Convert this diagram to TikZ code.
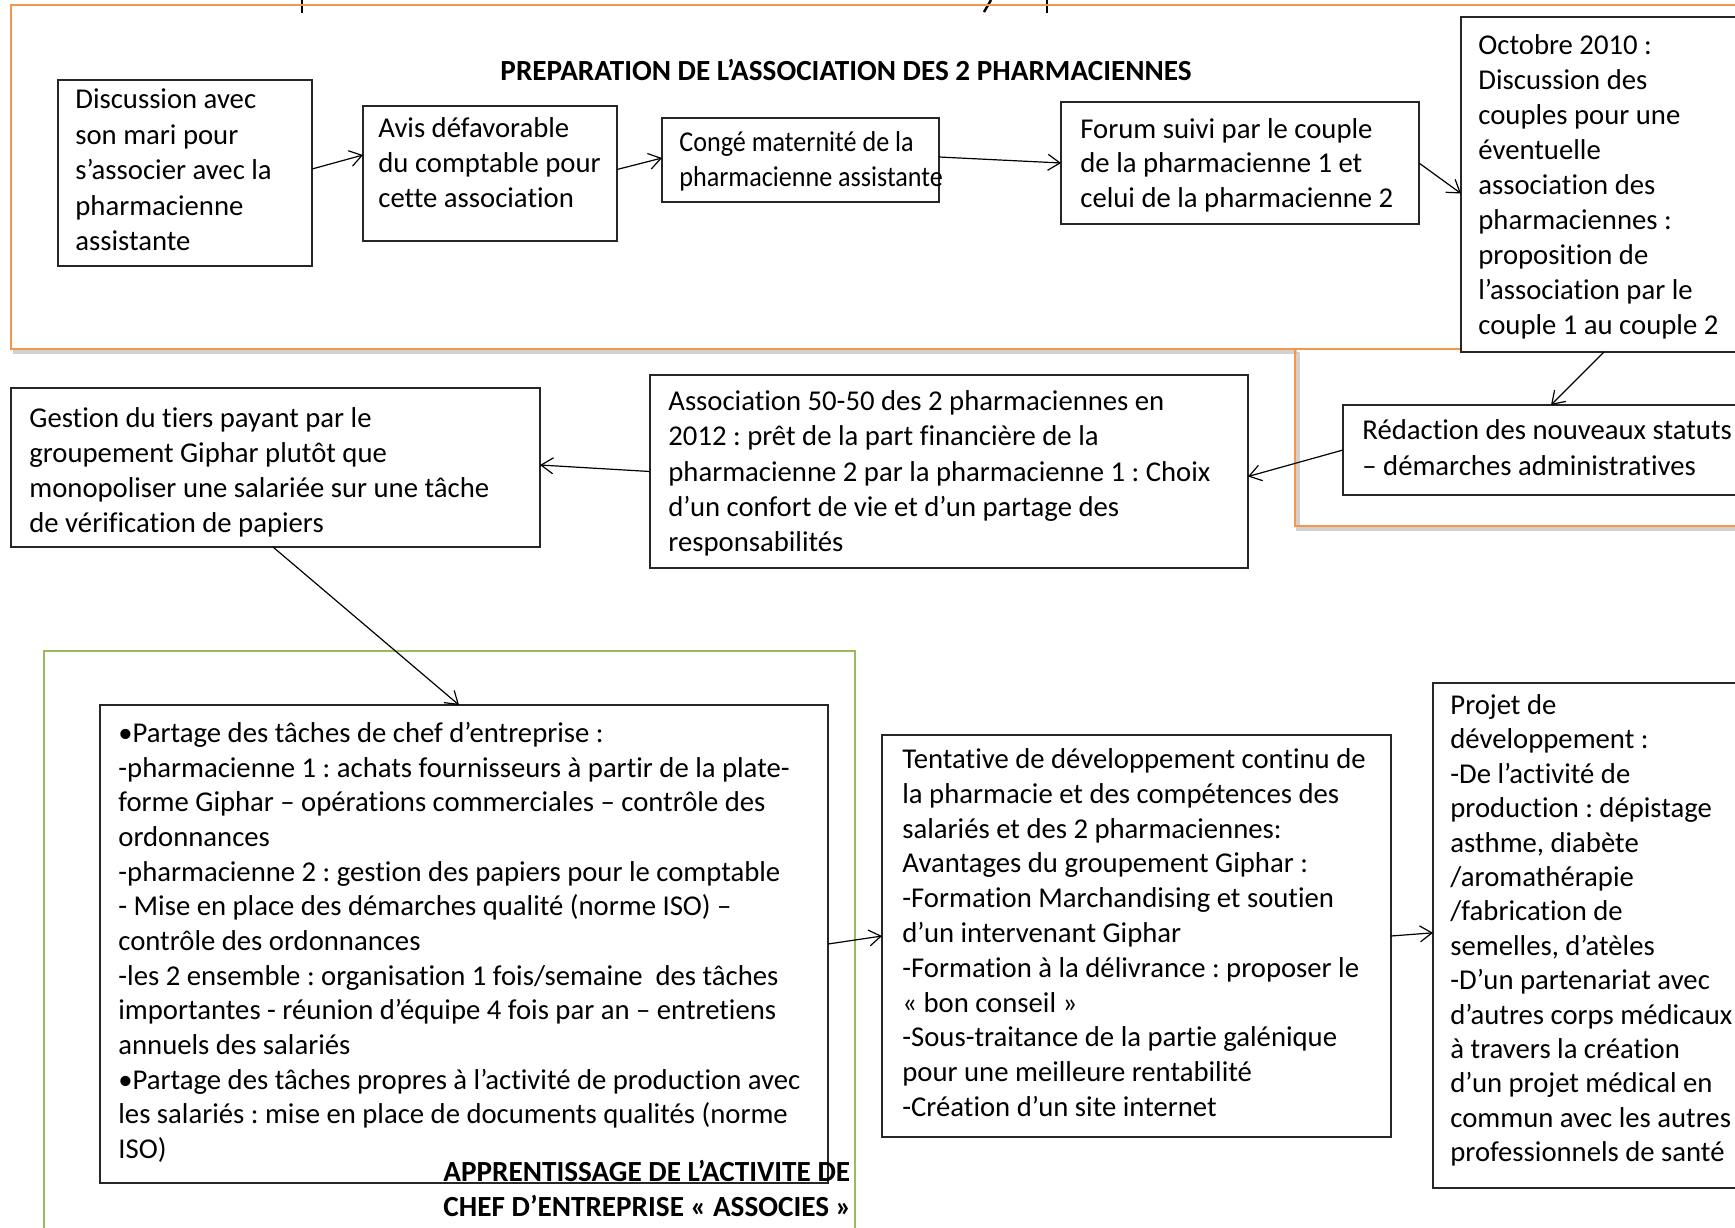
\documentclass[tikz,border=0pt]{standalone}
\usepackage{fontspec}
\setmainfont{Carlito}[Ligatures=NoCommon]
\newfontfamily\narrowfont{Carlito}[FakeStretch=0.91, Ligatures=NoCommon]
\usetikzlibrary{arrows.meta}
\newcommand\ts{\rule{0pt}{20pt}}
\definecolor{orframe}{HTML}{F79646}
\definecolor{grframe}{HTML}{9BBB59}
\frenchspacing
\begin{document}
\begin{tikzpicture}[x=0.5pt,y=-0.5pt,
  bx/.style={draw=black!85, line width=0.75pt, fill=white, anchor=north west, inner sep=0pt, outer sep=0pt},
  txt/.style={anchor=north west, inner sep=0pt, align=left, font=\fontsize{14.35}{#1}\selectfont},
  txt/.default=17.5,
  narrowtxt/.style={anchor=north west, inner sep=0pt, align=left, font=\narrowfont\fontsize{14.35}{#1}\selectfont},
  lbl/.style={anchor=north west, inner sep=0pt, align=left, font=\bfseries\fontsize{14.6}{#1}\selectfont},
  arr/.style={draw=black, line width=0.6pt, -{Straight Barb[length=6pt,width=8pt]}},
  orangeline/.style={draw=orframe, line width=1.3pt},
  greenline/.style={draw=grframe, line width=1.1pt},
  shadowline/.style={draw=black!30, line width=1.6pt, opacity=0.6},
  cutglyph/.style={draw=black, line width=1.2pt}
]
\useasboundingbox (0,0) rectangle (1735,1227);
\clip (0,0) rectangle (1735,1227);

% fragments of a heading cut off by the top edge
\draw[cutglyph] (302,0) -- (302,13);
\draw[cutglyph] (991,0) -- (984,12);
\draw[cutglyph] (1047,0) -- (1047,13);

% orange frames with light shadow under their lower edges
\draw[shadowline] (13,352) -- (1297,352);
\draw[shadowline] (1298,352) -- (1298,529) -- (1752,529);
\draw[orangeline] (11,5) rectangle (1750,349);
\draw[orangeline] (1295,349) rectangle (1750,526);

% green frame
\draw[greenline] (44,651) rectangle (855,1250);

% title
\node[font=\bfseries\fontsize{14.6}{17.5}\selectfont, anchor=base, inner sep=0pt] (title) at (846,80) {PREPARATION DE L’ASSOCIATION DES 2 PHARMACIENNES};

% boxes
\node[bx, minimum width=254*0.5pt, minimum height=186*0.5pt] (b1) at (58,80) {};
\node[bx, minimum width=254*0.5pt, minimum height=135*0.5pt] (b2) at (363,106) {};
\node[bx, minimum width=277*0.5pt, minimum height=84*0.5pt] (b3) at (662,118) {};
\node[bx, minimum width=358*0.5pt, minimum height=122*0.5pt] (b4) at (1061,102) {};
\node[bx, minimum width=330*0.5pt, minimum height=335*0.5pt] (b5) at (1461,17) {};
\node[bx, minimum width=420*0.5pt, minimum height=90*0.5pt] (red) at (1343,405) {};
\node[bx, minimum width=598*0.5pt, minimum height=193*0.5pt] (assoc) at (650,375) {};
\node[bx, minimum width=529*0.5pt, minimum height=159*0.5pt] (gest) at (11,388) {};
\node[bx, minimum width=728*0.5pt, minimum height=478*0.5pt] (part) at (100,705) {};
\node[bx, minimum width=509*0.5pt, minimum height=402*0.5pt] (tent) at (882,735) {};
\node[bx, minimum width=330*0.5pt, minimum height=505*0.5pt] (proj) at (1433,683) {};

% texts
\node[txt=17.75] (t1) at (75,68.5) {\ts Discussion avec\\son mari pour\\s’associer avec la\\pharmacienne\\assistante};
\node[txt] (t2) at (378,97) {\ts Avis défavorable\\du comptable pour\\cette association};
\node[narrowtxt=17.6] (t3) at (679,111) {\ts Congé maternité de la\\pharmacienne assistante};
\node[txt=17.25] (t4) at (1080,98) {\ts Forum suivi par le couple\\de la pharmacienne 1 et\\celui de la pharmacienne 2};
\node[txt] (t5) at (1478,14) {\ts Octobre 2010 :\\Discussion des\\couples pour une\\éventuelle\\association des\\pharmaciennes :\\proposition de\\l’association par le\\couple 1 au couple 2};
\node[txt=18.25] (t6) at (1362,399) {\ts Rédaction des nouveaux statuts\\– démarches administratives};
\node[txt=17.65] (t7) at (668,370) {\ts Association 50-50 des 2 pharmaciennes en\\2012 : prêt de la part financière de la\\pharmacienne 2 par la pharmacienne 1 : Choix\\d’un confort de vie et d’un partage des\\responsabilités};
\node[txt] (t8) at (29,387) {\ts Gestion du tiers payant par le\\groupement Giphar plutôt que\\monopoliser une salariée sur une tâche\\de vérification de papiers};
\node[txt=17.33] (t9) at (118,702) {\ts •Partage des tâches de chef d’entreprise :\\-pharmacienne 1 : achats fournisseurs à partir de la plate-\\forme Giphar – opérations commerciales – contrôle des\\ordonnances\\-pharmacienne 2 : gestion des papiers pour le comptable\\- Mise en place des démarches qualité (norme ISO) –\\contrôle des ordonnances\\-les 2 ensemble : organisation 1 fois/semaine\ \ des tâches\\importantes - réunion d’équipe 4 fois par an – entretiens\\annuels des salariés\\•Partage des tâches propres à l’activité de production avec\\les salariés : mise en place de documents qualités (norme\\ISO)};
\node[txt=17.4] (t10) at (902,728) {\ts Tentative de développement continu de\\la pharmacie et des compétences des\\salariés et des 2 pharmaciennes:\\Avantages du groupement Giphar :\\-Formation Marchandising et soutien\\d’un intervenant Giphar\\-Formation à la délivrance : proposer le\\« bon conseil »\\-Sous-traitance de la partie galénique\\pour une meilleure rentabilité\\-Création d’un site internet};
\node[txt=17.2] (t11) at (1450,674) {\ts Projet de\\développement :\\-De l’activité de\\production : dépistage\\asthme, diabète\\/aromathérapie\\/fabrication de\\semelles, d’atèles\\-D’un partenariat avec\\d’autres corps médicaux\\à travers la création\\d’un projet médical en\\commun avec les autres\\professionnels de santé};

% arrows
\draw[arr] ([yshift=2pt]b1.east) -- ([yshift=9.25pt]b2.west);
\draw[arr] ([yshift=2pt]b2.east) -- ([yshift=1pt]b3.west);
\draw[arr] ([yshift=1.5pt]b3.east) -- (b4.west);
\draw[arr] (b4.east) -- ([yshift=-4.5pt]b5.west);
\draw[arr] ([xshift=71.5pt]b5.south west) -- ([xshift=104pt]red.north west);
\draw[arr] (red.west) -- ([yshift=-2.5pt]assoc.east);
\draw[arr] (assoc.west) -- ([yshift=1.25pt]gest.east);
\draw[arr] ([xshift=131pt]gest.south west) -- ([xshift=179.5pt]part.north west);
\draw[arr] (part.east) -- (tent.west);
\draw[arr] (tent.east) -- ([yshift=1.35pt]proj.west);

% bottom label of the green frame
\node[lbl=17.75] (lab) at (443,1141) {\ts APPRENTISSAGE DE L’ACTIVITE DE\\CHEF D’ENTREPRISE « ASSOCIES »};
\end{tikzpicture}
\end{document}
